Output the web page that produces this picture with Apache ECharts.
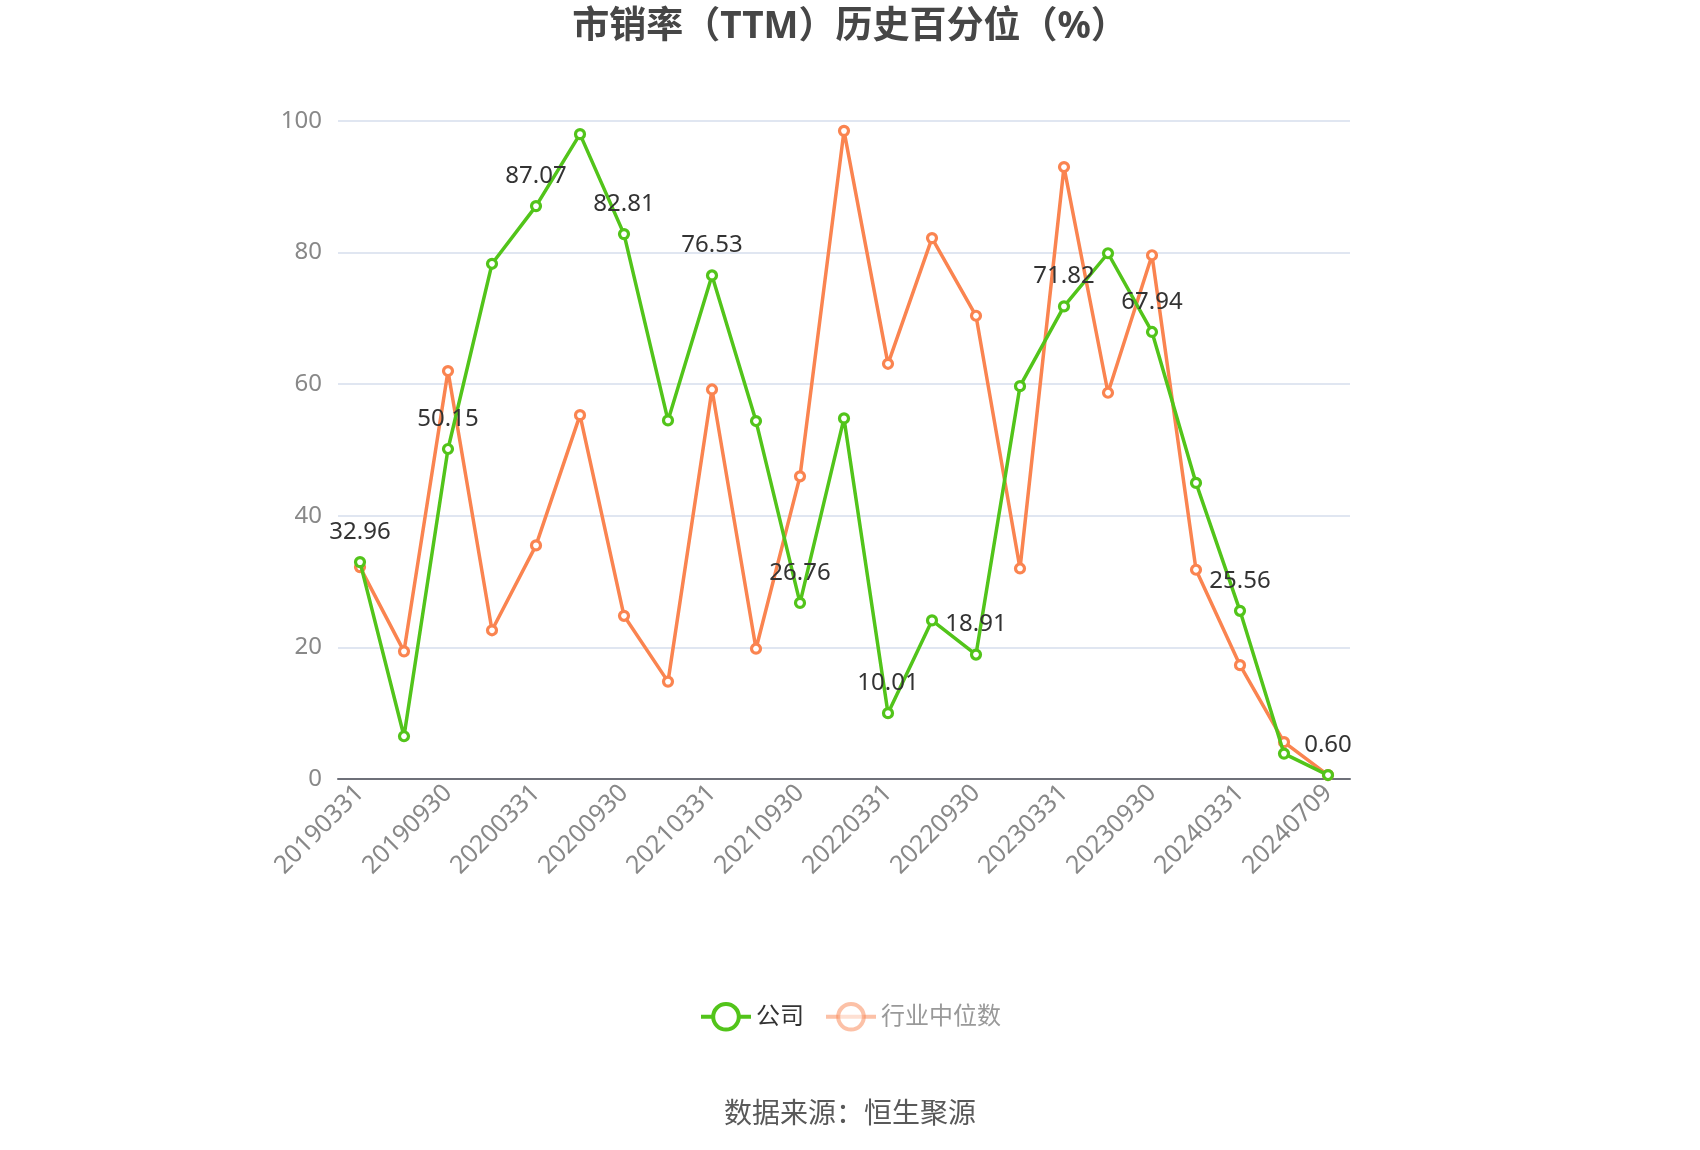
<!DOCTYPE html>
<html>
<head>
<meta charset="utf-8">
<script src="https://cdn.jsdelivr.net/npm/echarts@6/dist/echarts.min.js"></script>
<style>html,body{margin:0;padding:0;background:#fff;}#c{width:1700px;height:1150px;}</style>
</head>
<body>
<div id="c"></div>
<script>
const categories = ['20190331','20190630','20190930','20191231','20200331','20200630','20200930','20201231','20210331','20210630','20210930','20211231','20220331','20220630','20220930','20221231','20230331','20230630','20230930','20231231','20240331','20240630','20240709'];
const companyValues = [32.96, 6.5, 50.15, 78.3, 87.07, 98.0, 82.81, 54.5, 76.53, 54.4, 26.76, 54.8, 10.01, 24.1, 18.91, 59.7, 71.82, 79.9, 67.94, 45.0, 25.56, 3.86, 0.60];
const industryValues = [32.2, 19.4, 62.0, 22.6, 35.5, 55.3, 24.8, 14.8, 59.2, 19.8, 46.0, 98.5, 63.1, 82.2, 70.4, 32.0, 93.0, 58.7, 79.6, 31.8, 17.3, 5.6, 0.6];
const yTicks = [0, 20, 40, 60, 80, 100];
const seriesNames = ['公司', '行业中位数'];
const titleText = '市销率（TTM）历史百分位（%）';
const sourceText = '数据来源：恒生聚源';

const FONT = '"Noto Sans", "Noto Sans CJK SC", sans-serif';
const GREEN = '#52c41a', ORANGE = '#fa8450';
const chart = echarts.init(document.getElementById('c'), null, {renderer: 'canvas'});
chart.setOption({
  backgroundColor: '#fff',
  animation: false,
  color: [GREEN, ORANGE],
  textStyle: {fontFamily: FONT},
  title: [
    {text: titleText, left: 'center', top: 4,
     textStyle: {fontSize: 37, fontWeight: 'bold', color: '#464646', fontFamily: FONT}},
    {text: sourceText, left: 'center', top: 1096,
     textStyle: {fontSize: 28, fontWeight: 'normal', color: '#595959', fontFamily: FONT}}
  ],
  legend: {
    top: 997, left: 'center', itemWidth: 50, itemHeight: 32, itemGap: 20,
    textStyle: {fontSize: 24, color: '#333', fontFamily: FONT},
    itemStyle: {borderWidth: 4},
    lineStyle: {width: 4},
    data: [
      {name: seriesNames[0]},
      {name: seriesNames[1], textStyle: {color: '#999'}, itemStyle: {opacity: 0.5}, lineStyle: {opacity: 0.5}}
    ]
  },
  grid: {left: 338, right: 350, top: 121, bottom: 371, containLabel: false},
  xAxis: {
    type: 'category', data: categories, boundaryGap: true,
    axisLine: {lineStyle: {color: '#6E7079', width: 2}},
    axisTick: {alignWithLabel: true, interval: 1, length: 7, lineStyle: {color: '#6E7079', width: 2}},
    axisLabel: {interval: 1, rotate: 45, fontSize: 25, color: '#888', margin: 10, fontFamily: FONT}
  },
  yAxis: {
    type: 'value', min: yTicks[0], max: yTicks[yTicks.length - 1], interval: yTicks[1] - yTicks[0],
    axisLine: {show: false}, axisTick: {show: false},
    axisLabel: {fontSize: 24, color: '#888', margin: 16, fontFamily: FONT},
    splitLine: {lineStyle: {color: '#e0e6f1', width: 2}}
  },
  series: [
    {
      name: seriesNames[0], type: 'line', data: companyValues, z: 3,
      symbol: 'circle', symbolSize: 9,
      lineStyle: {color: GREEN, width: 3.5},
      itemStyle: {color: '#fff', borderColor: GREEN, borderWidth: 3.2},
      label: {show: true, position: 'top', distance: 12, fontSize: 24, color: '#333', fontFamily: FONT,
        formatter: p => (p.dataIndex % 2 === 0 ? Number(p.value).toFixed(2) : '')}
    },
    {
      name: seriesNames[1], type: 'line', data: industryValues, z: 2,
      symbol: 'circle', symbolSize: 9,
      lineStyle: {color: ORANGE, width: 3.5},
      itemStyle: {color: '#fff', borderColor: ORANGE, borderWidth: 3.2},
      label: {show: false}
    }
  ]
});
</script>
</body>
</html>
